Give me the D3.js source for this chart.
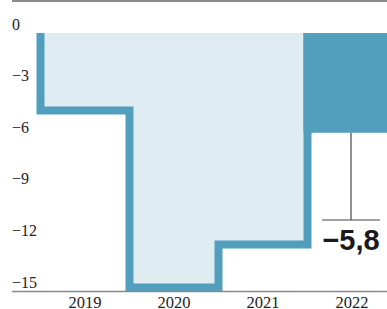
<!DOCTYPE html>
<html>
<head>
<meta charset="utf-8">
<script src="https://cdn.jsdelivr.net/npm/d3@7"></script>
<style>
  body { margin: 0; background: #fff; }
  svg { display: block; }
</style>
</head>
<body>
<svg id="svg"></svg>
<script>
// Data
const years = ['2019', '2020', '2021', '2022'];
const values = [-4.5, -14.8, -12.3, -5.8];
const tickValues = [0, -3, -6, -9, -12, -15];
const tickLabels = ['0', '\u22123', '\u22126', '\u22129', '\u221212', '\u221215'];
const highlightLabel = '\u22125,8';

const width = 387;
const height = 309;
const dark = '#529fbd';
const light = '#dfedf3';
const lineW = 8;

const svg = d3.select('#svg')
  .attr('width', width)
  .attr('height', height);

const x = d3.scaleBand()
  .domain(years)
  .range([40.5, 396.5]);

const y = d3.scaleLinear()
  .domain([0, -15])
  .range([33, 291]);

// top rule
svg.append('line')
  .attr('x1', 12).attr('x2', width)
  .attr('y1', 1).attr('y2', 1)
  .attr('stroke', '#8a8a8a').attr('stroke-width', 2);

// the first three years drawn as a stepped area with a thick outline
const past = years.slice(0, 3).map((yr, i) => ({ year: yr, value: values[i] }));
const stepPts = [[x(past[0].year), y(0)]];
past.forEach(d => {
  stepPts.push([x(d.year), y(d.value)]);
  stepPts.push([x(d.year) + x.bandwidth(), y(d.value)]);
});
const last = past[past.length - 1];
stepPts.push([x(last.year) + x.bandwidth(), y(0)]);

svg.append('path')
  .attr('d', d3.line()(stepPts) + 'Z')
  .attr('fill', light);

svg.append('path')
  .attr('d', d3.line()(stepPts))
  .attr('fill', 'none')
  .attr('stroke', dark)
  .attr('stroke-width', lineW)
  .attr('stroke-linejoin', 'miter')
  .attr('stroke-linecap', 'butt');

// current year as a solid bar
const cur = years[3];
svg.append('rect')
  .attr('x', x(cur) - lineW / 2)
  .attr('y', y(0))
  .attr('width', x.bandwidth() + lineW / 2)
  .attr('height', y(values[3]) - y(0))
  .attr('fill', dark);

// annotation
const cx = x(cur) + x.bandwidth() / 2 - 1;
const annY = 220;
svg.append('line')
  .attr('x1', cx).attr('x2', cx)
  .attr('y1', y(values[3])).attr('y2', annY)
  .attr('stroke', '#222').attr('stroke-width', 1);
svg.append('line')
  .attr('x1', cx - 29).attr('x2', cx + 29)
  .attr('y1', annY).attr('y2', annY)
  .attr('stroke', '#444').attr('stroke-width', 1.2);
svg.append('text')
  .attr('x', cx)
  .attr('y', 250)
  .attr('text-anchor', 'middle')
  .attr('font-family', '"Liberation Sans Narrow", "Arial Narrow", sans-serif')
  .attr('font-weight', 'bold')
  .attr('font-size', 29)
  .attr('fill', '#1a1a1a')
  .text(highlightLabel);

// baseline
svg.append('line')
  .attr('x1', 12).attr('x2', width)
  .attr('y1', y(-15) + 0.5).attr('y2', y(-15) + 0.5)
  .attr('stroke', '#888').attr('stroke-width', 1.5);

// y tick labels
svg.append('g')
  .selectAll('text')
  .data(tickValues)
  .join('text')
  .attr('x', 12)
  .attr('y', d => y(d) - 3.5)
  .attr('font-family', '"Liberation Serif", serif')
  .attr('font-size', 16)
  .attr('fill', '#222')
  .text((d, i) => tickLabels[i]);

// x labels
svg.append('g')
  .selectAll('text')
  .data(years)
  .join('text')
  .attr('x', d => x(d) + x.bandwidth() / 2)
  .attr('y', 308)
  .attr('text-anchor', 'middle')
  .attr('font-family', '"Liberation Serif", serif')
  .attr('font-size', 16.5)
  .attr('fill', '#222')
  .text(d => d);
</script>
</body>
</html>
